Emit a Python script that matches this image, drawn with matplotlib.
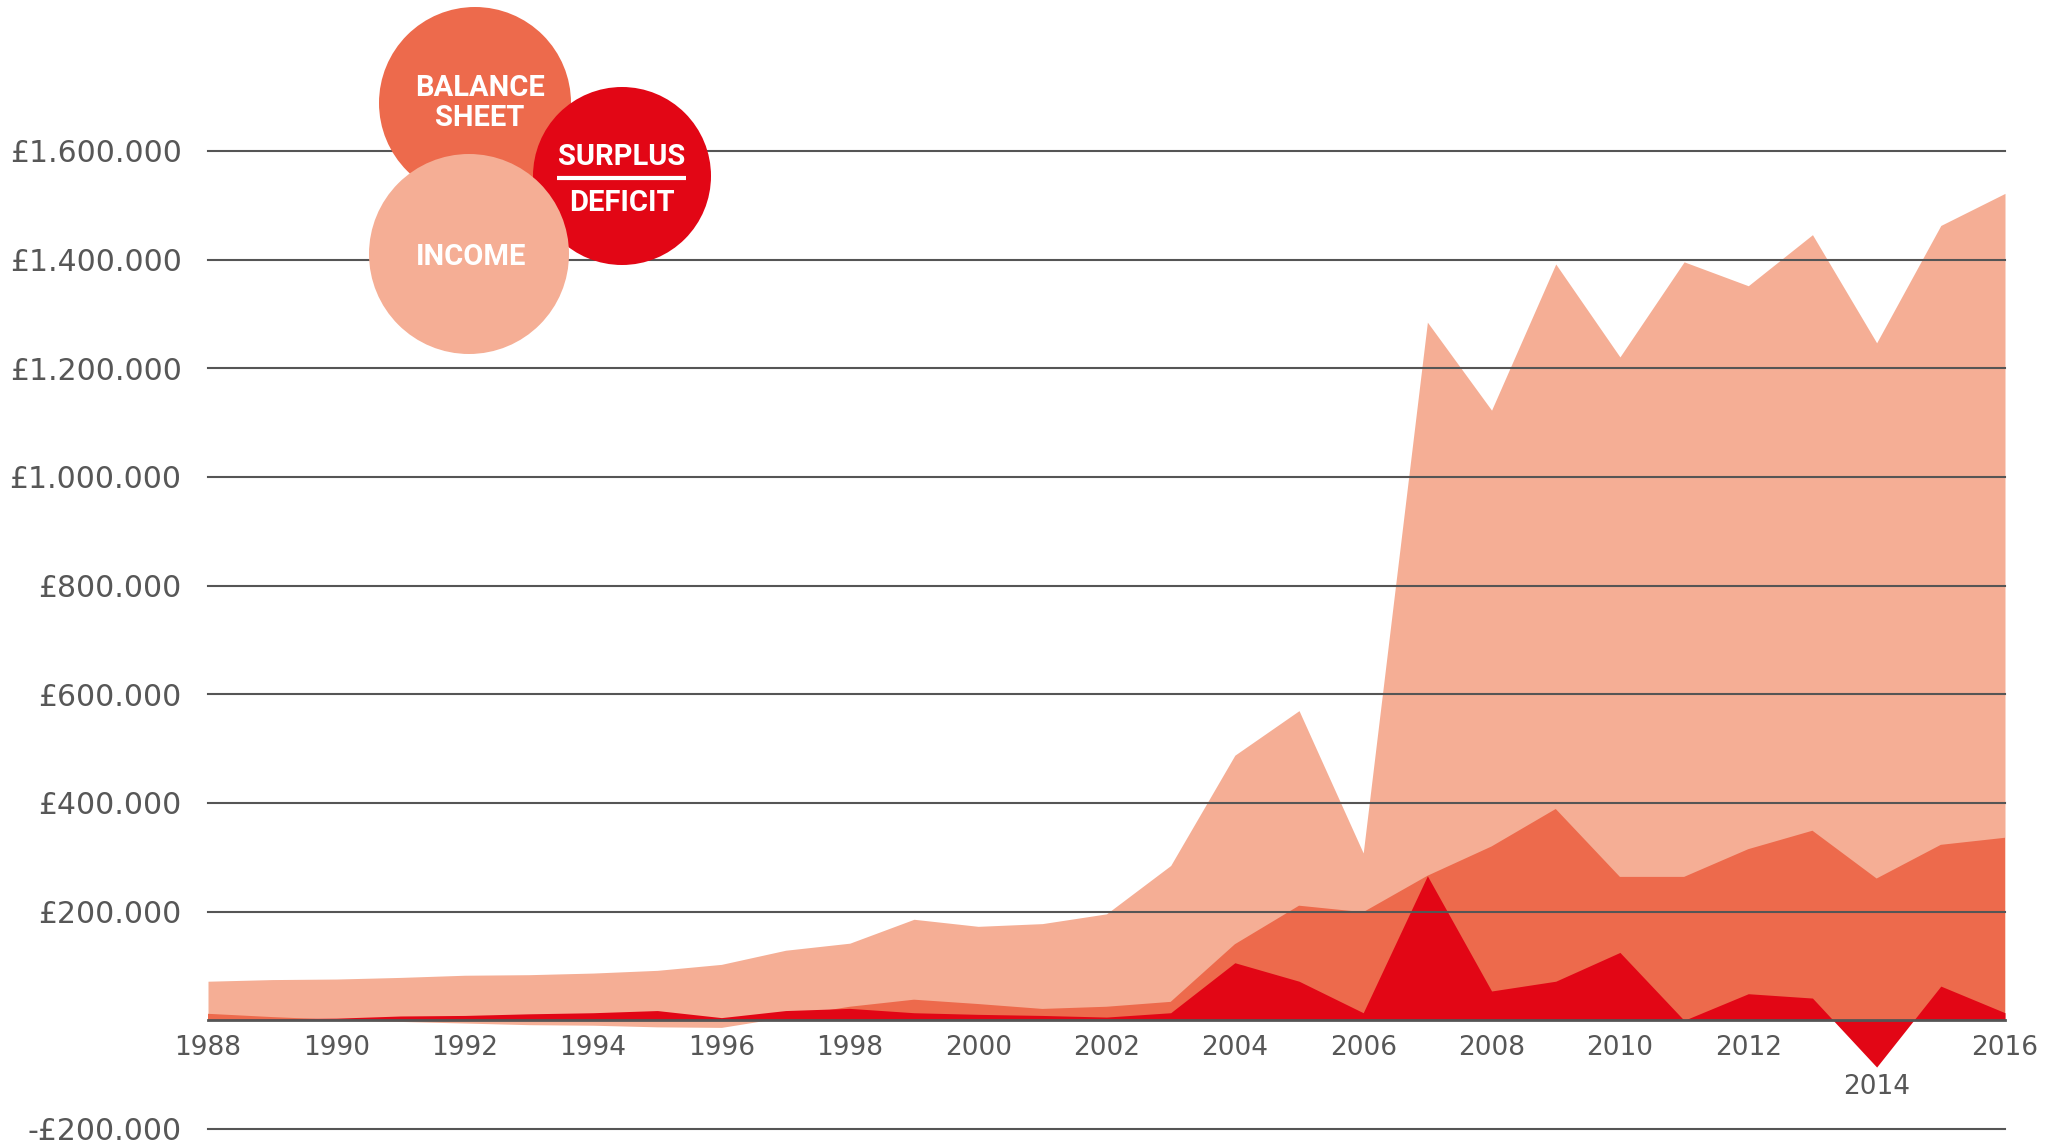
import matplotlib
matplotlib.use("Agg")
import matplotlib.pyplot as plt
import numpy as np
from matplotlib.patches import Circle

# values in thousands of pounds
years = list(range(1988, 2017))
income = [72, 75, 76, 79, 83, 84, 87, 92, 103, 129, 142, 186, 173, 178, 196,
          285, 488, 570, 308, 1285, 1123, 1392, 1221, 1396, 1352, 1446, 1247,
          1463, 1522]
balance = [12, 6, 1, -2, -5, -8, -9, -12, -13, 6, 25, 38, 30, 21, 25,
           34, 140, 211, 199, 266, 320, 389, 264, 264, 315, 349, 261,
           323, 336]
surplus = [2, 3, 4, 8, 9, 12, 14, 18, 5, 18, 22, 14, 11, 9, 6,
           14, 106, 72, 14, 266, 54, 72, 125, 0, 49, 41, -86, 63, 14]

yticks = [-200, 200, 400, 600, 800, 1000, 1200, 1400, 1600]
ytick_labels = ["-£200.000", "£200.000", "£400.000", "£600.000", "£800.000",
                "£1.000.000", "£1.200.000", "£1.400.000", "£1.600.000"]
xlabel_years = list(range(1988, 2017, 2))
low_label_years = [2014]

C_INCOME = "#f5ae95"
C_BALANCE = "#ed6a4c"
C_SURPLUS = "#e20615"
C_TEXT = "#575757"
C_GRID = "#555555"

W, H = 2059, 1143
fig = plt.figure(figsize=(W / 100, H / 100), dpi=100)
ax = fig.add_axes([208 / W, 1 - 1129 / H, 1797 / W, 978 / H])

x = np.array(years)
inc = np.array(income, dtype=float)
bal = np.array(balance, dtype=float)
sur = np.array(surplus, dtype=float)

ax.fill_between(x, 0, inc, color=C_INCOME, lw=0, zorder=1)
ax.fill_between(x, 0, bal, where=bal >= 0, interpolate=True,
                color=C_BALANCE, lw=0, zorder=2)
ax.fill_between(x, 0, bal, where=bal < 0, interpolate=True,
                color=C_INCOME, lw=0, zorder=2)
ax.fill_between(x, 0, sur, color=C_SURPLUS, lw=0, zorder=3)

for v in yticks:
    ax.axhline(v, color=C_GRID, lw=1.5, zorder=5, clip_on=False)
ax.axhline(0, color=C_GRID, lw=2, zorder=5, clip_on=False)

ax.set_xlim(1988, 2016)
ax.set_ylim(-200, 1600)
ax.set_yticks(yticks)
ax.set_yticklabels(ytick_labels)
ax.tick_params(axis="y", length=0, pad=19, labelsize=21.5, labelcolor=C_TEXT)
ax.set_xticks([])
for s in ax.spines.values():
    s.set_visible(False)

for yr in xlabel_years:
    off = -67 if yr in low_label_years else -28
    ax.annotate(str(yr), xy=(yr, 0), xytext=(0, off), textcoords="offset pixels",
                ha="center", va="center", fontsize=19, color=C_TEXT,
                annotation_clip=False)

# legend bubbles in pixel space
lg = fig.add_axes([0, 0, 1, 1])
lg.set_xlim(0, W)
lg.set_ylim(H, 0)
lg.axis("off")
lg.add_patch(Circle((475, 103), 96, color=C_BALANCE, lw=0))
lg.add_patch(Circle((622, 176), 89, color=C_SURPLUS, lw=0))
lg.add_patch(Circle((469, 254), 100, color=C_INCOME, lw=0))

txt = dict(color="white", fontsize=21, fontweight="bold", ha="center",
           va="center", family="Roboto")
lg.text(480, 88, "BALANCE", **txt)
lg.text(480, 118, "SHEET", **txt)
lg.text(622, 157, "SURPLUS", **txt)
lg.plot([557, 686], [178, 178], color="white", lw=3, solid_capstyle="butt")
lg.text(622, 203, "DEFICIT", **txt)
lg.text(471, 257, "INCOME", **txt)

fig.savefig("out.png", dpi=100)
